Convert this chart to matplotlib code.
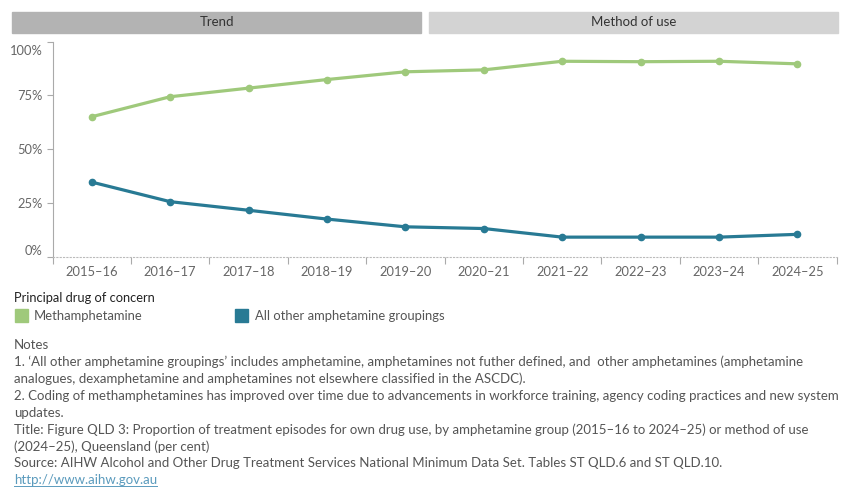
import matplotlib
matplotlib.use("Agg")
import matplotlib.pyplot as plt
import matplotlib.transforms as mtransforms
from matplotlib.patches import Rectangle

years = ['2015–16', '2016–17', '2017–18', '2018–19', '2019–20',
         '2020–21', '2021–22', '2022–23', '2023–24', '2024–25']
meth = [65.1, 74.4, 78.4, 82.4, 86.0, 86.9, 90.9, 90.7, 90.9, 89.7]
other = [34.7, 25.6, 21.6, 17.5, 13.9, 13.1, 9.1, 9.1, 9.1, 10.4]
series_names = ['Methamphetamine', 'All other amphetamine groupings']
series_colors = ['#9fc97b', '#287a94']
yticks = [0, 25, 50, 75, 100]

notes = [
    "Notes",
    "1. \u2018All other amphetamine groupings\u2019 includes amphetamine, amphetamines not futher defined, and  other amphetamines (amphetamine",
    "analogues, dexamphetamine and amphetamines not elsewhere classified in the ASCDC).",
    "2. Coding of methamphetamines has improved over time due to advancements in workforce training, agency coding practices and new system",
    "updates.",
    "Title: Figure QLD 3: Proportion of treatment episodes for own drug use, by amphetamine group (2015\u201316 to 2024\u201325) or method of use",
    "(2024\u201325), Queensland (per cent)",
    "Source: AIHW Alcohol and Other Drug Treatment Services National Minimum Data Set. Tables ST QLD.6 and ST QLD.10.",
]
link = "http://www.aihw.gov.au"

plt.rcParams['font.family'] = ['Lato', 'DejaVu Sans']

W, H = 850, 500
fig = plt.figure(figsize=(8.5, 5), dpi=100)


def fx(x):
    return x / W


def fy(y):
    return 1 - y / H


# header tabs
for x0, x1, col, txt in [(12, 421, '#b3b3b3', 'Trend'), (429, 838, '#d3d3d3', 'Method of use')]:
    fig.patches.append(Rectangle((fx(x0), fy(33)), fx(x1 - x0), 21 / H,
                                 transform=fig.transFigure, color=col, zorder=0))
    fig.text(fx((x0 + x1) / 2), fy(22.5), txt, ha='center', va='center',
             fontsize=9.5, color='#333333')

ax_l, ax_r, ax_t, ax_b = 52.5, 836.7, 41.7, 256.7
ax = fig.add_axes([fx(ax_l), fy(ax_b), fx(ax_r - ax_l), (ax_b - ax_t) / H])

x = list(range(len(years)))
for vals, col in zip([meth, other], series_colors):
    ax.plot(x, vals, color=col, linewidth=2.3, marker='o', markersize=4.5,
            solid_capstyle='round', zorder=3)

ax.set_xlim(-0.5, len(years) - 0.5)
ax.set_ylim(0, 100)

ax.spines['top'].set_visible(False)
ax.spines['right'].set_visible(False)
ax.spines['left'].set_color('#aaaaaa')
ax.spines['bottom'].set_color('#bbbbbb')
ax.spines['bottom'].set_linestyle((0, (1, 2)))
ax.spines['bottom'].set_linewidth(0.8)

ax.set_yticks(yticks)
ax.set_yticklabels([f'{v}%' for v in yticks])
ax.tick_params(axis='y', length=4, color='#aaaaaa', labelcolor='#666666',
               labelsize=9.3, pad=3)
labs = ax.get_yticklabels()
labs[0].set_va('bottom')
labs[-1].set_va('top')
labs[-1].set_transform(labs[-1].get_transform() +
                       mtransforms.ScaledTranslation(0, -3 / 100, fig.dpi_scale_trans))

bounds = [i - 0.5 for i in range(len(years) + 1)]
ax.set_xticks(bounds)
ax.set_xticklabels([])
ax.set_xticks(x, minor=True)
ax.set_xticklabels(years, minor=True)
ax.tick_params(axis='x', which='major', length=5, color='#aaaaaa', direction='out')
ax.tick_params(axis='x', which='minor', length=0, labelcolor='#666666',
               labelsize=9.3, pad=7)

# legend
fig.text(fx(14), fy(298), 'Principal drug of concern', ha='left', va='center',
         fontsize=9.3, color='#222222')
for (sx, tx), name, col in zip([(15, 34), (235, 255)], series_names, series_colors):
    fig.patches.append(Rectangle((fx(sx), fy(322)), fx(13), 13 / H,
                                 transform=fig.transFigure, color=col))
    fig.text(fx(tx), fy(315.5), name, ha='left', va='center', fontsize=9.4,
             color='#555555')

# notes
for i, line in enumerate(notes):
    fig.text(fx(14), fy(345 + i * 16.9), line, ha='left', va='center',
             fontsize=9.5, color='#555555')
lt = fig.text(fx(14), fy(345 + len(notes) * 16.9), link, ha='left', va='center',
              fontsize=9.5, color='#5b9bbd')
lt.set_url(link)
fig.canvas.draw()
bb = lt.get_window_extent()
fig.add_artist(plt.Line2D([bb.x0 / W, bb.x1 / W], [bb.y0 / H + 0.001, bb.y0 / H + 0.001],
                          transform=fig.transFigure, color='#5b9bbd', linewidth=0.7))

fig.savefig('out.png', dpi=100)
